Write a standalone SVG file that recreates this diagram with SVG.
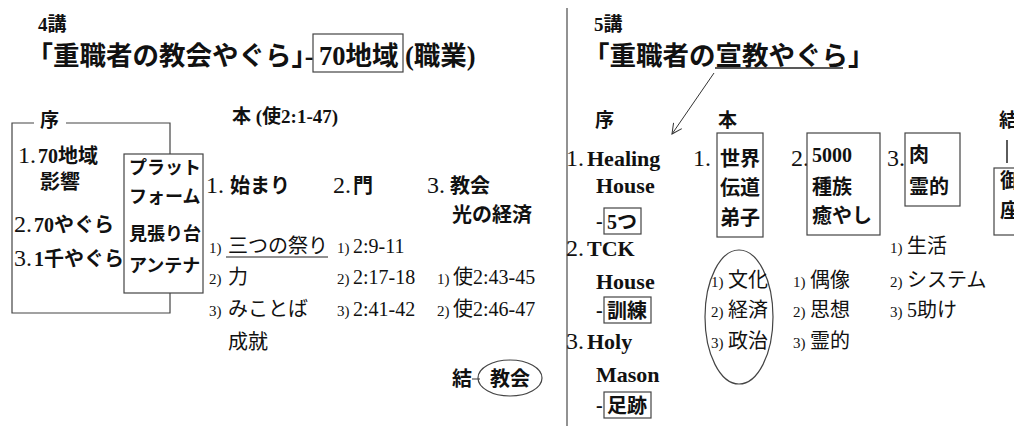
<svg xmlns="http://www.w3.org/2000/svg" width="1014" height="426" viewBox="0 0 1014 426">
<style>
text{font-family:"Liberation Serif","Noto Sans CJK JP",serif;fill:#111}
.b{font-weight:bold}
.tt{font-size:26.5px;font-weight:bold}
.k{font-size:19px;font-weight:bold}
.n{font-size:24px}
.h{font-size:20px;font-weight:bold}
.p{font-size:18px;font-weight:bold}
.e{font-size:22px;font-weight:bold}
.i{font-size:20px}
.s{font-size:15px}
.half{font-feature-settings:"halt"}
.box{fill:#fff;stroke:#444;stroke-width:1.2}
.ln{fill:none;stroke:#444;stroke-width:1.2}
</style>
<defs>
<marker id="open" viewBox="0 0 12 12" refX="11" refY="6" markerWidth="12" markerHeight="12" markerUnits="userSpaceOnUse" orient="auto">
<path d="M1,1 L11,6 L1,11" fill="none" stroke="#333" stroke-width="1"/>
</marker>
</defs>
<rect width="1014" height="426" fill="#fff"/>

<g id="divider"><line x1="567" y1="8" x2="567" y2="426" stroke="#777" stroke-width="1.6"/></g>

<g id="title4">
<text x="38" y="31" class="k">4講</text>
<text x="26.5" y="65" class="tt">「重職者の教会やぐら<tspan class="half">」</tspan>-</text>
<rect x="313" y="34" width="90" height="38" class="box"/>
<text x="319" y="65" class="tt">70地域</text>
<text x="405" y="65" class="tt">(職業)</text>
</g>

<g id="jo4">
<path d="M34,123 H12 V313 H170 V123 H66" class="ln"/>
<text x="40" y="127" class="k">序</text>
<text x="18" y="163"><tspan class="n">1.</tspan><tspan class="h" dx="2">70地域</tspan></text>
<text x="40" y="189" class="h">影響</text>
<text x="14" y="232"><tspan class="n">2.</tspan><tspan class="h" dx="2">70やぐら</tspan></text>
<text x="14" y="266"><tspan class="n">3.</tspan><tspan class="h" dx="2">1千やぐら</tspan></text>
</g>

<g id="platform">
<rect x="124" y="154" width="79" height="139" class="box"/>
<text x="129" y="174" class="p">プラット</text>
<text x="129" y="203" class="p">フォーム</text>
<text x="129" y="240" class="p">見張り台</text>
<text x="129" y="272" class="p">アンテナ</text>
</g>

<g id="hon4">
<text x="232" y="123" class="k">本 (使2:1-47)</text>
<text x="206" y="193"><tspan class="n">1.</tspan><tspan class="h" dx="6">始まり</tspan></text>
<text x="333" y="193"><tspan class="n">2.</tspan><tspan class="h" dx="2">門</tspan></text>
<text x="427" y="193"><tspan class="n">3.</tspan><tspan class="h" dx="5">教会</tspan></text>
<text x="452" y="222" class="h">光の経済</text>
</g>

<g id="items4">
<text x="209" y="253" class="s">1)</text><text x="228" y="253" class="i">三つの祭り</text>
<line x1="226" y1="257" x2="328" y2="257" stroke="#222" stroke-width="1.2"/>
<text x="209" y="284" class="s">2)</text><text x="228" y="284" class="i">力</text>
<text x="209" y="316" class="s">3)</text><text x="228" y="316" class="i">みことば</text>
<text x="228" y="349" class="i">成就</text>
<text x="337" y="253" class="s">1)</text><text x="353" y="253" class="i">2:9-11</text>
<text x="337" y="284" class="s">2)</text><text x="353" y="284" class="i">2:17-18</text>
<text x="337" y="316" class="s">3)</text><text x="353" y="316" class="i">2:41-42</text>
<text x="437" y="284" class="s">1)</text><text x="453" y="284" class="i">使2:43-45</text>
<text x="437" y="316" class="s">2)</text><text x="453" y="316" class="i">使2:46-47</text>
</g>

<g id="ketsu4">
<text x="452" y="386" class="h">結</text>
<line x1="472" y1="379" x2="480" y2="379" stroke="#333" stroke-width="1"/>
<ellipse cx="510" cy="378" rx="32" ry="18" class="ln"/>
<text x="490" y="386" class="h">教会</text>
</g>

<g id="title5">
<text x="594" y="31" class="k">5講</text>
<text x="583" y="65" class="tt">「重職者の宣教やぐら」</text>
<line x1="715" y1="68" x2="843" y2="68" stroke="#222" stroke-width="1.4"/>
</g>

<g id="connectors">
<line x1="714" y1="73" x2="672" y2="134" stroke="#333" stroke-width="1" marker-end="url(#open)"/>
</g>

<g id="jo5">
<text x="595" y="127" class="k">序</text>
<text x="566" y="166"><tspan class="n">1.</tspan><tspan class="e" dx="3">Healing</tspan></text>
<text x="596" y="193" class="e">House</text>
<text x="596" y="228" class="h">-</text>
<rect x="604" y="208" width="37" height="26" class="box"/>
<text x="607" y="229" class="h">5つ</text>
<text x="566" y="256"><tspan class="n">2.</tspan><tspan class="e" dx="3">TCK</tspan></text>
<text x="596" y="289" class="e">House</text>
<text x="596" y="317" class="h">-</text>
<rect x="604" y="297" width="47" height="26" class="box"/>
<text x="607" y="318" class="h">訓練</text>
<text x="566" y="349"><tspan class="n">3.</tspan><tspan class="e" dx="3">Holy</tspan></text>
<text x="596" y="382" class="e">Mason</text>
<text x="596" y="412" class="h">-</text>
<rect x="604" y="392" width="47" height="26" class="box"/>
<text x="607" y="413" class="h">足跡</text>
</g>

<g id="hon5">
<text x="718" y="127" class="k">本</text>
<text x="693" y="166" class="n">1.</text>
<rect x="717" y="133" width="46" height="104" class="box"/>
<text x="720" y="166" class="h">世界</text>
<text x="720" y="195" class="h">伝道</text>
<text x="720" y="225" class="h">弟子</text>
<text x="791" y="166" class="n">2.</text>
<rect x="807" y="133" width="73" height="102" class="box"/>
<text x="812" y="162" class="h">5000</text>
<text x="812" y="194" class="h">種族</text>
<text x="812" y="223" class="h">癒やし</text>
<text x="887" y="166" class="n">3.</text>
<rect x="905" y="133" width="55" height="73" class="box"/>
<text x="909" y="162" class="h">肉</text>
<text x="909" y="194" class="h">霊的</text>
</g>

<g id="items5">
<ellipse cx="739" cy="317" rx="34" ry="67" class="ln"/>
<text x="711" y="287" class="s">1)</text><text x="728" y="287" class="i">文化</text>
<text x="711" y="317" class="s">2)</text><text x="728" y="317" class="i">経済</text>
<text x="711" y="348" class="s">3)</text><text x="728" y="348" class="i">政治</text>
<text x="793" y="287" class="s">1)</text><text x="810" y="287" class="i">偶像</text>
<text x="793" y="317" class="s">2)</text><text x="810" y="317" class="i">思想</text>
<text x="793" y="348" class="s">3)</text><text x="810" y="348" class="i">霊的</text>
<text x="890" y="253" class="s">1)</text><text x="907" y="253" class="i">生活</text>
<text x="890" y="287" class="s">2)</text><text x="907" y="287" class="i">システム</text>
<text x="890" y="317" class="s">3)</text><text x="907" y="317" class="i">5助け</text>
</g>

<g id="ketsu5">
<text x="999" y="127" class="k">結</text>
<line x1="1007" y1="140" x2="1007" y2="163" stroke="#333" stroke-width="1.6"/>
<rect x="994" y="168" width="46" height="67" class="box"/>
<text x="1000" y="188" class="h">御</text>
<text x="1000" y="218" class="h">座</text>
</g>
</svg>
